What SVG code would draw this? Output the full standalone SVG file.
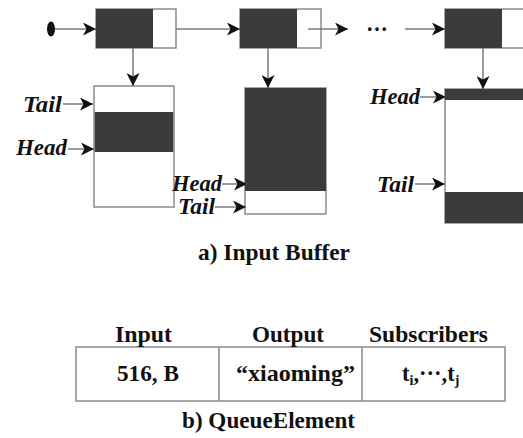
<svg xmlns="http://www.w3.org/2000/svg" width="523" height="438" viewBox="0 0 523 438">
  <defs>
    <marker id="arrow" markerUnits="userSpaceOnUse" markerWidth="14" markerHeight="13" refX="13" refY="6.5" orient="auto">
      <path d="M0,0 L13,6.5 L0,13 L3.5,6.5 Z" fill="#111"/>
    </marker>
    <style>
      .edge { stroke: #7a7a7a; stroke-width: 1.5; fill: none; marker-end: url(#arrow); }
      .box { fill: #fff; stroke: #8a8a8a; stroke-width: 1.5; }
      .dark { fill: #3b3b3b; }
      .lbl { font-family: "Liberation Serif", "Times New Roman", serif; font-weight: bold; font-style: italic; font-size: 23px; fill: #111; }
      .txt { font-family: "Liberation Serif", "Times New Roman", serif; font-weight: bold; font-size: 22.5px; fill: #111; }
      .grid { fill: none; stroke: #8a8a8a; stroke-width: 1.5; }
    </style>
  </defs>

  <!-- list start marker -->
  <g id="start">
    <ellipse cx="51" cy="29" rx="4" ry="7.5" fill="#111"/>
  </g>

  <!-- linked list elements -->
  <g id="elem1">
    <rect class="box" x="96" y="9" width="80" height="39"/>
    <rect class="dark" x="96" y="9" width="57" height="39"/>
  </g>
  <g id="elem2">
    <rect class="box" x="240" y="9" width="81" height="39"/>
    <rect class="dark" x="240" y="9" width="57" height="39"/>
  </g>
  <g id="ellipsis">
    <text class="txt" x="377" y="37" text-anchor="middle" font-size="26" textLength="22" lengthAdjust="spacing">···</text>
  </g>
  <g id="elem3">
    <rect class="box" x="445" y="9" width="90" height="39"/>
    <rect class="dark" x="445" y="9" width="57" height="39"/>
  </g>

  <!-- buffers -->
  <g id="buffer1">
    <rect class="box" x="94" y="86" width="80" height="121"/>
    <rect class="dark" x="94.75" y="112" width="78.5" height="40"/>
  </g>
  <g id="buffer2">
    <rect class="box" x="245" y="88" width="81" height="126"/>
    <rect class="dark" x="245" y="88" width="81" height="103"/>
  </g>
  <g id="buffer3">
    <rect class="box" x="445" y="89" width="90" height="134"/>
    <rect class="dark" x="445" y="89" width="90" height="11"/>
    <rect class="dark" x="445" y="192" width="90" height="31"/>
  </g>

  <!-- pointer labels -->
  <g id="labels">
    <text class="lbl" x="23" y="111.5" textLength="39" lengthAdjust="spacingAndGlyphs">Tail</text>
    <text class="lbl" x="16" y="155" textLength="51" lengthAdjust="spacingAndGlyphs">Head</text>
    <text class="lbl" x="172" y="190.5" textLength="50" lengthAdjust="spacingAndGlyphs">Head</text>
    <text class="lbl" x="178" y="214" textLength="37" lengthAdjust="spacingAndGlyphs">Tail</text>
    <text class="lbl" x="370" y="104" textLength="50" lengthAdjust="spacingAndGlyphs">Head</text>
    <text class="lbl" x="377" y="191.5" textLength="37" lengthAdjust="spacingAndGlyphs">Tail</text>
  </g>

  <!-- connectors -->
  <g id="connectors">
    <line class="edge" x1="55" y1="29" x2="96" y2="29"/>
    <line class="edge" x1="176" y1="29" x2="240" y2="29"/>
    <line class="edge" x1="308" y1="29" x2="348" y2="29"/>
    <line class="edge" x1="405" y1="29" x2="445" y2="29"/>
    <line class="edge" x1="133" y1="48" x2="133" y2="86"/>
    <line class="edge" x1="268" y1="48" x2="268" y2="88"/>
    <line class="edge" x1="483" y1="48" x2="483" y2="89"/>
    <line class="edge" x1="63" y1="104" x2="93" y2="104"/>
    <line class="edge" x1="68" y1="149" x2="94" y2="149"/>
    <line class="edge" x1="222" y1="184" x2="247" y2="184"/>
    <line class="edge" x1="215" y1="207" x2="246" y2="207"/>
    <line class="edge" x1="420" y1="97" x2="446" y2="97"/>
    <line class="edge" x1="415" y1="184" x2="445" y2="184"/>
  </g>

  <g id="caption-a">
    <text class="txt" x="198" y="260" textLength="152" lengthAdjust="spacingAndGlyphs">a) Input Buffer</text>
  </g>

  <!-- queue element record -->
  <g id="queue-element">
    <rect class="grid" x="76" y="347" width="429" height="54"/>
    <line class="grid" x1="219" y1="347" x2="219" y2="401"/>
    <line class="grid" x1="362" y1="347" x2="362" y2="401"/>
    <text class="txt" x="115" y="342" textLength="57" lengthAdjust="spacingAndGlyphs">Input</text>
    <text class="txt" x="252" y="342" textLength="72" lengthAdjust="spacingAndGlyphs">Output</text>
    <text class="txt" x="369" y="342" textLength="119" lengthAdjust="spacingAndGlyphs">Subscribers</text>
    <text class="txt" x="117" y="381" textLength="62" lengthAdjust="spacingAndGlyphs">516, B</text>
    <text class="txt" x="236" y="381" textLength="119" lengthAdjust="spacingAndGlyphs">“xiaoming”</text>
    <text class="txt" x="402" y="381">t<tspan font-size="14" dy="4">i</tspan><tspan dy="-4">,···,t</tspan><tspan font-size="14" dy="4">j</tspan></text>
  </g>

  <g id="caption-b">
    <text class="txt" x="182" y="428" textLength="173" lengthAdjust="spacingAndGlyphs">b) QueueElement</text>
  </g>
</svg>
